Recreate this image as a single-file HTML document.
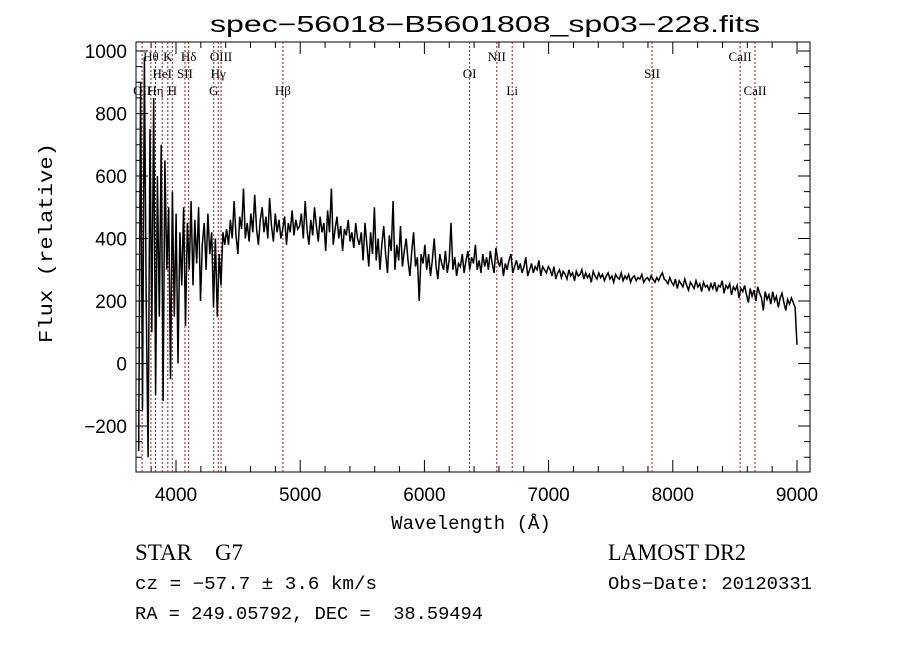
<!DOCTYPE html>
<html><head><meta charset="utf-8"><style>
body{margin:0;background:#fff;width:900px;height:649px;overflow:hidden}
svg{display:block}
</style></head><body>
<svg id="chart" width="900" height="649" viewBox="0 0 900 649" xmlns="http://www.w3.org/2000/svg">
<text x="210" y="32" font-family="Liberation Sans, sans-serif" font-size="23" textLength="550" lengthAdjust="spacingAndGlyphs">spec−56018−B5601808_sp03−228.fits</text>
<g id="axes"></g>
<g id="lines"></g>
<g id="series"></g>
<text transform="translate(52,243) rotate(-90)" font-family="Liberation Mono, monospace" font-size="19" text-anchor="middle" textLength="200" lengthAdjust="spacingAndGlyphs">Flux (relative)</text>
<text x="471" y="529" font-family="Liberation Mono, monospace" font-size="19" text-anchor="middle">Wavelength (Å)</text>
<text x="135" y="560" font-family="Liberation Serif, serif" font-size="23" xml:space="preserve">STAR    G7</text>
<text x="608" y="560" font-family="Liberation Serif, serif" font-size="23" textLength="138" lengthAdjust="spacingAndGlyphs">LAMOST DR2</text>
<text x="135" y="589" font-family="Liberation Mono, monospace" font-size="18" textLength="242" lengthAdjust="spacingAndGlyphs">cz = −57.7 ± 3.6 km/s</text>
<text x="608" y="589" font-family="Liberation Mono, monospace" font-size="18" textLength="204" lengthAdjust="spacingAndGlyphs">Obs−Date: 20120331</text>
<text x="135" y="619" font-family="Liberation Mono, monospace" font-size="18" xml:space="preserve" textLength="348" lengthAdjust="spacingAndGlyphs">RA = 249.05792, DEC =  38.59494</text>
</svg>
<script>
const xTicks=[4000,5000,6000,7000,8000,9000];
const yTicks=[-200,0,200,400,600,800,1000];
const lineNames=["OII","Hθ","Hη","HeI","K","H","SII","Hδ","G","Hγ","OIII","Hβ","OI","NII","Li","SII","CaII","CaII"];
const lineWaves=[3727,3798,3835,3889,3934,3970,4072,4102,4304,4340,4363,4861,6364,6583,6707,7833,8542,8662];
const lineRows=[2,0,2,1,0,2,1,0,2,1,0,2,1,0,2,1,0,2];
const flux=[-280,900,-150,980,200,-300,750,100,850,-100,600,150,700,-120,650,300,500,
-50,550,150,480,0,420,250,500,120,450,
300,520,250,460,320,500,200,380,450,300,480,350,420,
180,400,150,350,250,420,380,
430,380,460,400,520,410,350,470,430,560,400,450,390,480,420,540,430,380,460,500,420,470,400,530,440,390,480,420,460,400,430,470,380,450,420,490,410,460,430,440,
480,400,520,430,380,460,410,500,440,390,470,420,450,360,490,420,560,380,430,470,400,440,360,430,410,460,390,420,370,450,400,380,420,
330,450,380,310,420,350,500,330,400,300,380,440,350,290,410,360,520,300,380,330,440,310,360,400,330,280,360,420,310,340,200,350,320,
380,300,350,280,330,400,310,270,350,320,300,360,290,330,450,300,340,280,320,310,350,290,330,360,300,340,320,380,300,330,290,350,310,340,300,360,320,290,370,330,
310,340,280,320,300,330,350,290,310,330,300,320,290,310,340,280,300,320,290,310,300,330,280,310,300,290,310,
300,280,310,270,290,300,275,295,285,270,300,280,290,265,295,280,285,300,270,290,275,285,260,295,280,270,290,275,285,265,280,290,270,280,260,285,275,270,290,265,280,270,285,260,275,280,265,275,270,285,260,270,275,265,280,270,260,275,265,280,290,270,265,255,275,260,
250,270,240,265,255,245,270,250,235,260,250,240,265,245,255,230,260,245,250,235,255,240,260,230,250,245,265,225,250,240,255,220,245,235,250,210,240,230,250,220,195,240,215,235,200,245,225,210,170,230,205,220,190,230,200,215,180,210,225,195,170,205,190,210,195,180,60];
const wStart=3700,wEnd=9000;
const L=136,R=810,T=42,B=472;
const X=w=>176+(w-4000)*0.1242;
const Y=v=>363.5-v*0.3125;
const NS="http://www.w3.org/2000/svg";
function mk(tag,attrs,parent){const e=document.createElementNS(NS,tag);for(const k in attrs)e.setAttribute(k,attrs[k]);parent.appendChild(e);return e;}
const axes=document.getElementById('axes');
const frame=mk('rect',{x:L,y:T,width:R-L,height:B-T,fill:'none',stroke:'#000','stroke-width':1},axes);


for(let w=3800;w<=9100;w+=200){const x=X(w);if(x<L||x>R)continue;const major=w%1000===0;const len=major?12:6;
mk('line',{x1:x,y1:B,x2:x,y2:B-len,stroke:'#000'},axes);mk('line',{x1:x,y1:T,x2:x,y2:T+len,stroke:'#000'},axes);}
xTicks.forEach(w=>{const t=mk('text',{x:X(w),y:501,'font-family':'Liberation Sans, sans-serif','font-size':19,'text-anchor':'middle'},axes);t.textContent=w;

});
for(let v=-300;v<=1000;v+=50){const y=Y(v);if(y<T||y>B)continue;const major=v%200===0;const len=major?12:6;
mk('line',{x1:L,y1:y,x2:L+len,y2:y,stroke:'#000'},axes);mk('line',{x1:R,y1:y,x2:R-len,y2:y,stroke:'#000'},axes);}
yTicks.forEach(v=>{const t=mk('text',{x:127,y:Y(v)+7,'font-family':'Liberation Sans, sans-serif','font-size':19,'text-anchor':'end'},axes);t.textContent=(v<0?'−'+(-v):v);

});
const lg=document.getElementById('lines');
lineWaves.forEach((w,i)=>{const x=X(w);
const l=mk('line',{x1:x,y1:T,x2:x,y2:B,stroke:'#8b2020','stroke-width':1,'stroke-dasharray':'2,2'},lg);


const t=mk('text',{x:x,y:61+lineRows[i]*17,'font-family':'Liberation Serif, serif','font-size':13,'text-anchor':'middle'},lg);t.textContent=lineNames[i];

});
const n=flux.length;
const pts=flux.map((v,i)=>{const w=wStart+i*(wEnd-wStart)/(n-1);return X(w).toFixed(1)+','+Math.max(T,Math.min(B,Y(v))).toFixed(1);}).join(' ');
const pl=mk('polyline',{points:pts,fill:'none',stroke:'#000','stroke-width':1.5},document.getElementById('series'));


</script>
</body></html>
